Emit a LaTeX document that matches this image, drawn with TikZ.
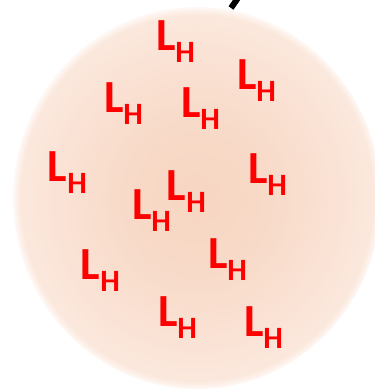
\documentclass[tikz,border=0pt]{standalone}
\usepackage{fontspec}
\setmainfont{Carlito}
\pgfdeclareradialshading{blob}{\pgfpoint{0bp}{0bp}}{%
  rgb(0bp)=(0.968,0.840,0.762);
  rgb(10bp)=(0.972,0.855,0.785);
  rgb(20bp)=(0.982,0.892,0.842);
  rgb(24bp)=(0.986,0.910,0.866);
  rgb(25.4bp)=(1,1,1);
  rgb(50bp)=(1,1,1)}
\tikzset{
  lh/.style={anchor=base west, inner sep=0pt, outer sep=0pt, text=red, font=\bfseries\fontsize{46}{46}\selectfont},
}
\newcommand{\lhtext}{L\raisebox{-12.5pt}{\fontsize{31}{31}\selectfont H}}
\begin{document}
\begin{tikzpicture}[x=1pt,y=-1pt]
\useasboundingbox (0,0) rectangle (375,392);
\clip (0,0) rectangle (375,392);
\shade[shading=blob] (197,198) ellipse [x radius=184, y radius=191];
\coordinate (a1) at (231,8);
\coordinate (a2) at (240,-5);
\draw[line width=6pt] (a1) -- (a2);
\node[lh] (l1) at (156,50) {\lhtext};
\node[lh] (l2) at (237,89) {\lhtext};
\node[lh] (l3) at (104,112) {\lhtext};
\node[lh] (l4) at (181,117) {\lhtext};
\node[lh] (l5) at (48,181) {\lhtext};
\node[lh] (l6) at (248,183) {\lhtext};
\node[lh] (l7) at (167,200) {\lhtext};
\node[lh] (l8) at (132,219) {\lhtext};
\node[lh] (l9) at (208,268) {\lhtext};
\node[lh] (l10) at (81,279) {\lhtext};
\node[lh] (l11) at (158,326) {\lhtext};
\node[lh] (l12) at (244,336) {\lhtext};
\end{tikzpicture}
\end{document}
